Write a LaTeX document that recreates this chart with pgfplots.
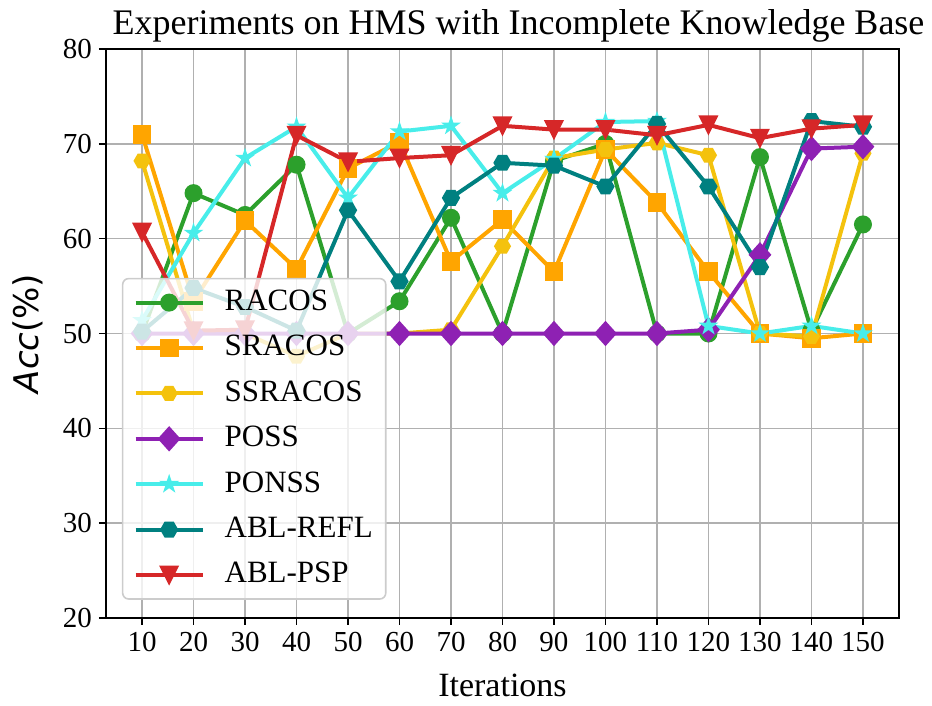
\documentclass[border=0pt]{standalone}
\usepackage{fontspec}
\setmainfont{Liberation Serif}
\newfontfamily\dejavu{DejaVu Sans}
\usepackage{pgfplots}
\usepackage{pgfplotstable}
\pgfplotsset{compat=1.18}
\usetikzlibrary{plotmarks}

\definecolor{cgreen}{HTML}{2CA02C}
\definecolor{corange}{HTML}{FFA500}
\definecolor{cyellow}{HTML}{F4C20D}
\definecolor{cpurple}{HTML}{8E21B3}
\definecolor{ccyan}{HTML}{48EDEA}
\definecolor{cteal}{HTML}{008080}
\definecolor{cred}{HTML}{D62728}
\definecolor{cgrid}{HTML}{B0B0B0}
\definecolor{cedge}{HTML}{CCCCCC}

\pgfdeclareplotmark{hexH}{%
  \pgfpathmoveto{\pgfpointpolar{0}{\pgfplotmarksize}}%
  \pgfpathlineto{\pgfpointpolar{60}{\pgfplotmarksize}}%
  \pgfpathlineto{\pgfpointpolar{120}{\pgfplotmarksize}}%
  \pgfpathlineto{\pgfpointpolar{180}{\pgfplotmarksize}}%
  \pgfpathlineto{\pgfpointpolar{240}{\pgfplotmarksize}}%
  \pgfpathlineto{\pgfpointpolar{300}{\pgfplotmarksize}}%
  \pgfpathclose\pgfusepathqfillstroke}
\pgfdeclareplotmark{fstar}{%
  \pgfpathmoveto{\pgfpointpolar{90}{\pgfplotmarksize}}%
  \pgfpathlineto{\pgfpointpolar{126}{0.382\pgfplotmarksize}}%
  \pgfpathlineto{\pgfpointpolar{162}{\pgfplotmarksize}}%
  \pgfpathlineto{\pgfpointpolar{198}{0.382\pgfplotmarksize}}%
  \pgfpathlineto{\pgfpointpolar{234}{\pgfplotmarksize}}%
  \pgfpathlineto{\pgfpointpolar{270}{0.382\pgfplotmarksize}}%
  \pgfpathlineto{\pgfpointpolar{306}{\pgfplotmarksize}}%
  \pgfpathlineto{\pgfpointpolar{342}{0.382\pgfplotmarksize}}%
  \pgfpathlineto{\pgfpointpolar{18}{\pgfplotmarksize}}%
  \pgfpathlineto{\pgfpointpolar{54}{0.382\pgfplotmarksize}}%
  \pgfpathclose\pgfusepathqfillstroke}
\pgfdeclareplotmark{dia}{%
  \pgfpathmoveto{\pgfqpoint{0pt}{\pgfplotmarksize}}%
  \pgfpathlineto{\pgfqpoint{0.9\pgfplotmarksize}{0pt}}%
  \pgfpathlineto{\pgfqpoint{0pt}{-\pgfplotmarksize}}%
  \pgfpathlineto{\pgfqpoint{-0.9\pgfplotmarksize}{0pt}}%
  \pgfpathclose\pgfusepathqfillstroke}
\pgfdeclareplotmark{tdown}{%
  \pgfpathmoveto{\pgfqpoint{0pt}{-\pgfplotmarksize}}%
  \pgfpathlineto{\pgfqpoint{-\pgfplotmarksize}{\pgfplotmarksize}}%
  \pgfpathlineto{\pgfqpoint{\pgfplotmarksize}{\pgfplotmarksize}}%
  \pgfpathclose\pgfusepathqfillstroke}

\pgfplotstableread{
x racos sracos ssracos poss ponss refl psp
10 50.0 71.0 68.2 50.0 51.4 50.2 60.7
20 64.8 53.4 50.2 50.0 60.6 54.8 50.3
30 62.5 61.9 50.0 50.0 68.5 52.8 50.4
40 67.8 56.8 47.6 50.0 71.8 50.3 70.9
50 50.0 67.4 50.0 50.0 64.3 63.0 68.1
60 53.4 70.2 50.0 50.0 71.3 55.5 68.5
70 62.2 57.6 50.4 50.0 71.9 64.3 68.8
80 50.0 62.0 59.2 50.0 64.8 68.0 71.9
90 68.2 56.5 68.5 50.0 68.4 67.7 71.5
100 70.0 69.4 69.4 50.0 72.3 65.5 71.5
110 50.0 63.8 70.1 50.0 72.4 72.1 70.9
120 50.0 56.5 68.8 50.4 50.8 65.5 72.0
130 68.6 50.0 50.0 58.3 50.0 57.0 70.6
140 50.3 49.5 49.7 69.5 50.8 72.4 71.6
150 61.5 50.0 69.0 69.7 50.0 71.8 72.0
}\data

\begin{document}
\begin{tikzpicture}
\useasboundingbox (-53pt,-44pt) rectangle (413pt,309pt);
\begin{axis}[
  at={(0pt,0pt)}, anchor=south west,
  width=396.5pt, height=284.5pt, scale only axis,
  xmin=3, xmax=157, ymin=20, ymax=80,
  xtick={10,20,...,150}, ytick={20,30,...,80},
  grid=major, major grid style={color=cgrid, line width=0.8pt},
  axis line style={line width=0.8pt},
  tick style={black, line width=0.8pt},
  tick align=outside, major tick length=3.5pt, tick pos=left,
  ticklabel style={font=\fontsize{14.5}{14.5}\selectfont},
  /pgf/number format/assume math mode=true,
  title={Experiments on HMS with Incomplete Knowledge Base},
  every axis title shift=0pt,
  title style={font=\fontsize{18}{18}\selectfont, at={(0.5,1)}, anchor=base, yshift=7.5pt, xshift=8pt},
  xlabel={Iterations},
  xlabel style={font=\fontsize{17}{17}\selectfont, at={(axis description cs:0.5,0)}, anchor=base, yshift=-39.5pt},
  ylabel={{\dejavu\fontsize{17}{17}\selectfont\itshape Acc\upshape(\%)}},
  ylabel style={at={(axis description cs:-0.0845,0.5)}, anchor=base},
  every axis plot/.append style={line width=2pt},
  legend cell align=left,
  legend image code/.code={\draw[mark repeat=2,mark phase=2,#1] plot coordinates {(0pt,0pt) (16.75pt,0pt) (33.5pt,0pt)};},
  legend image post style={opacity=1},
  legend style={at={(0.02,0.032)}, anchor=south west,
    font=\fontsize{15.5}{15.5}\selectfont,
    draw=cedge, line width=0.8pt, rounded corners=3pt,
    fill=white, fill opacity=0.8, text opacity=1,
    inner xsep=5.5pt, inner ysep=4pt, row sep=6.7pt, column sep=9pt,
    nodes={inner xsep=1pt, inner ysep=1pt, text height=11pt, text depth=3pt}},
]
\addplot[color=cgreen, mark=*, mark size=4pt, mark options={line width=1pt, solid}] table[x=x,y=racos]{\data};
\addlegendentry{RACOS}
\addplot[color=corange, mark=square*, mark size=4.2pt, mark options={line width=1pt, solid}] table[x=x,y=sracos]{\data};
\addlegendentry{SRACOS}
\addplot[color=cyellow, mark=hexH, mark size=3.7pt, mark options={line width=1pt, solid}] table[x=x,y=ssracos]{\data};
\addlegendentry{SSRACOS}
\addplot[color=cpurple, mark=dia, mark size=5.6pt, mark options={line width=1pt, solid}] table[x=x,y=poss]{\data};
\addlegendentry{POSS}
\addplot[color=ccyan, mark=fstar, mark size=3.6pt, mark options={line width=1pt, solid}] table[x=x,y=ponss]{\data};
\addlegendentry{PONSS}
\addplot[color=cteal, mark=hexH, mark size=4pt, mark options={line width=1pt, solid}] table[x=x,y=refl]{\data};
\addlegendentry{ABL-REFL}
\addplot[color=cred, mark=tdown, mark size=4.2pt, mark options={line width=1pt, solid}] table[x=x,y=psp]{\data};
\addlegendentry{ABL-PSP}
\end{axis}
\end{tikzpicture}
\end{document}
